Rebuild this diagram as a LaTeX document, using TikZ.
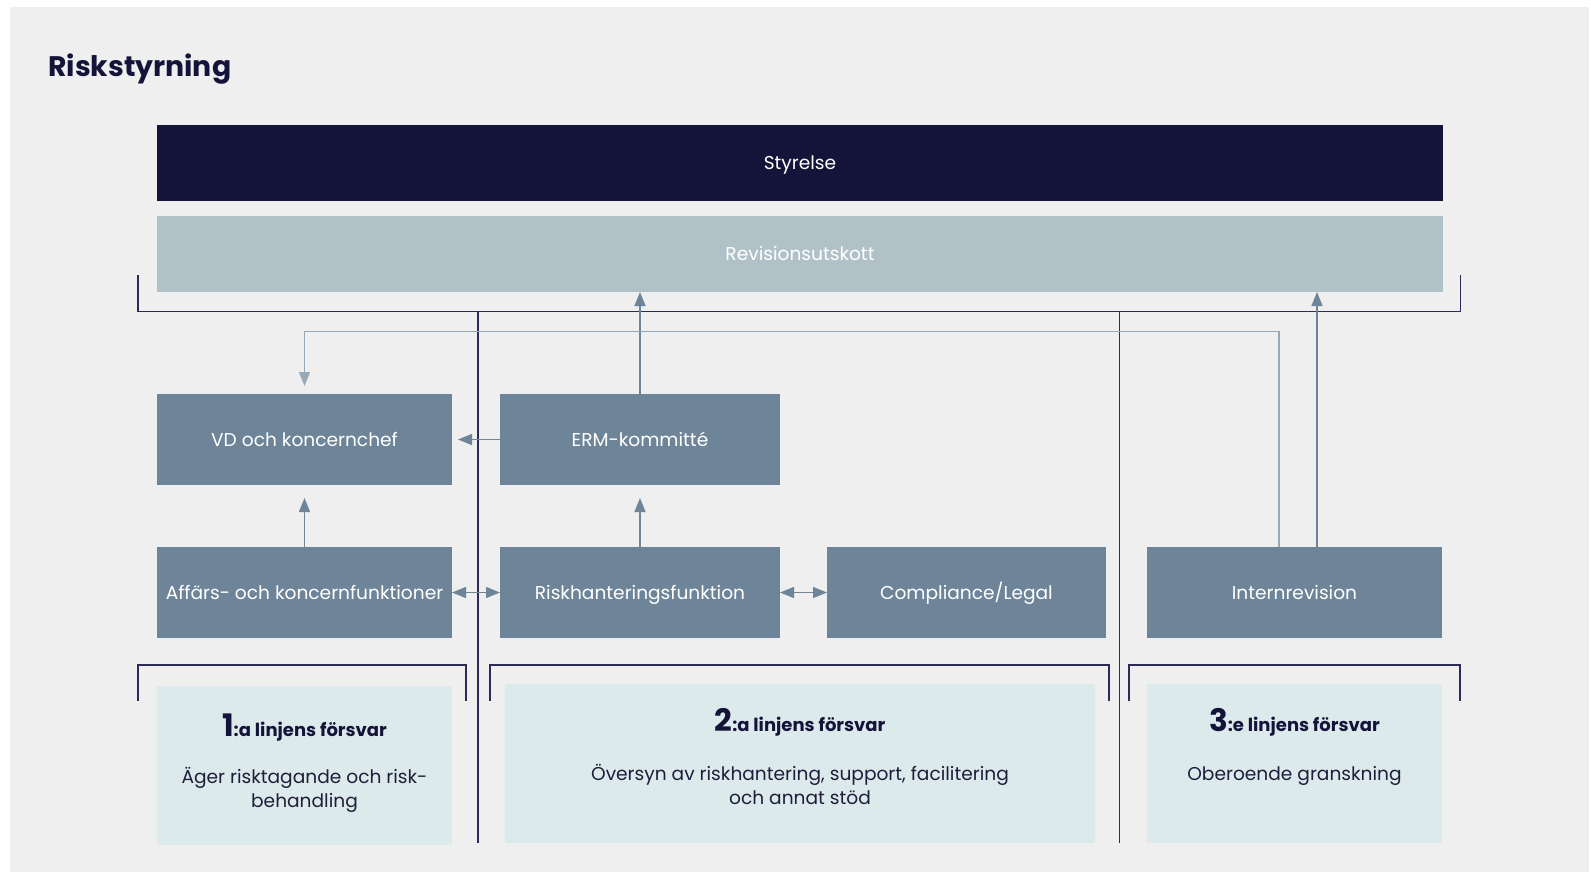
\documentclass[tikz,border=0pt]{standalone}
\usepackage{fontspec}
\setmainfont{Poppins}
\usetikzlibrary{arrows.meta}
\definecolor{bgc}{HTML}{EFEFEF}
\definecolor{navy}{HTML}{14143A}
\definecolor{revc}{HTML}{B0C1C8}
\definecolor{midc}{HTML}{6E8599}
\definecolor{lowc}{HTML}{DDEAEB}
\definecolor{linec}{HTML}{2B2B55}
\definecolor{arrc}{HTML}{6E8599}
\definecolor{fbc}{HTML}{97A8B6}
\definecolor{txtc}{HTML}{1E1E3C}
\tikzset{
  box/.style={inner sep=0pt, outer sep=0pt, draw=none, align=center, text height=1.36em, text depth=0pt},
  boxfont/.style={font=\fontsize{18.6}{22}\selectfont},
  midbox/.style={box, boxfont, fill=midc, text=white, minimum height=91pt},
  topbox/.style={box, boxfont, text=white, minimum width=1286pt, minimum height=76pt},
  lowbox/.style={inner sep=0pt, outer sep=0pt, fill=lowc, minimum height=159pt},
  bracket/.style={draw=linec, line width=1.4pt},
  conn/.style={draw=arrc, line width=1.3pt, -{Triangle[length=14pt,width=11pt]}},
  dconn/.style={draw=arrc, line width=1.3pt, {Triangle[length=14pt,width=11pt]}-{Triangle[length=14pt,width=11pt]}},
  head/.style={text=navy, font=\bfseries\fontsize{18}{20}\selectfont, anchor=base, inner sep=0pt},
  body/.style={text=txtc, font=\fontsize{18.6}{24}\selectfont, align=center, anchor=base, inner sep=0pt},
}
\newcommand{\bignum}[1]{{\fontsize{31}{31}\selectfont #1}}
\begin{document}
\begin{tikzpicture}[x=1pt,y=-1pt]
\useasboundingbox (0,0) rectangle (1591,872);
\fill[white] (0,0) rectangle (1591,872);
\fill[bgc] (10,7) rectangle (1589,872);

\node[anchor=base west, text=navy, font=\bfseries\fontsize{28.3}{30}\selectfont, inner sep=0pt] (title) at (48,77) {Riskstyrning};

\node[topbox, fill=navy] (sty) at (800,163) {Styrelse};
\node[topbox, fill=revc] (rev) at (800,254) {Revisionsutskott};

\node[midbox, minimum width=295pt] (vd) at (304.5,439.5) {VD och koncernchef};
\node[midbox, minimum width=280pt] (erm) at (640,439.5) {ERM-kommitté};
\node[midbox, minimum width=295pt] (aff) at (304.5,592.5) {Affärs- och koncernfunktioner};
\node[midbox, minimum width=280pt] (risk) at (640,592.5) {Riskhanteringsfunktion};
\node[midbox, minimum width=279pt] (comp) at (966.5,592.5) {Compliance/Legal};
\node[midbox, minimum width=295pt] (intr) at (1294.5,592.5) {Internrevision};

\node[lowbox, minimum width=295pt] (l1) at (304.5,765.5) {};
\node[lowbox, minimum width=590pt] (l2) at (800,763.5) {};
\node[lowbox, minimum width=295pt] (l3) at (1294.5,763.5) {};

\node[head] (l1h) at (304.5,736) {\bignum{1}:a linjens försvar};
\node[body] (l1b) at (304.5,807) {Äger risktagande och risk-\\behandling};
\node[head] (l2h) at (800,731.5) {\bignum{2}:a linjens försvar};
\node[body] (l2b) at (800,804) {Översyn av riskhantering, support, facilitering\\och annat stöd};
\node[head] (l3h) at (1294.5,731.5) {\bignum{3}:e linjens försvar};
\node[body] (l3b) at (1294.5,780) {Oberoende granskning};

% brackets and dividers
\coordinate (tb1) at (138,275);
\coordinate (tb2) at (1460.5,275);
\draw[bracket] (tb1) |- (1460.5,311.5) -- (tb2);
\coordinate (d1t) at (478,311.5);
\coordinate (d1b) at (478,843);
\coordinate (d2t) at (1119.5,311.5);
\coordinate (d2b) at (1119.5,843);
\draw[bracket] (d1t) -- (d1b);
\draw[bracket] (d2t) -- (d2b);
\coordinate (b1a) at (138,701); \coordinate (b1b) at (466,701);
\coordinate (b2a) at (490,701); \coordinate (b2b) at (1109,701);
\coordinate (b3a) at (1129,701); \coordinate (b3b) at (1460,701);
\draw[bracket] (b1a) -- (138,665) -- (466,665) -- (b1b);
\draw[bracket] (b2a) -- (490,665) -- (1109,665) -- (b2b);
\draw[bracket] (b3a) -- (1129,665) -- (1460,665) -- (b3b);

% connectors
\draw[conn] (erm.north) -- (erm.north |- rev.south);
\draw[conn] (intr.north -| 1317,0) -- (rev.south -| 1317,0);
\draw[conn, draw=fbc, shorten >=8pt] (intr.north -| 1279,0) -- (1279,331.5) -| (vd.north);
\draw[conn, shorten >=6pt] (erm.west) -- (vd.east);
\draw[conn, shorten >=13pt] (risk.north) -- (erm.south);
\draw[conn, shorten >=13pt] (aff.north) -- (vd.south);
\draw[dconn] (aff.east) -- (risk.west);
\draw[dconn] (risk.east) -- (comp.west);
\end{tikzpicture}
\end{document}
